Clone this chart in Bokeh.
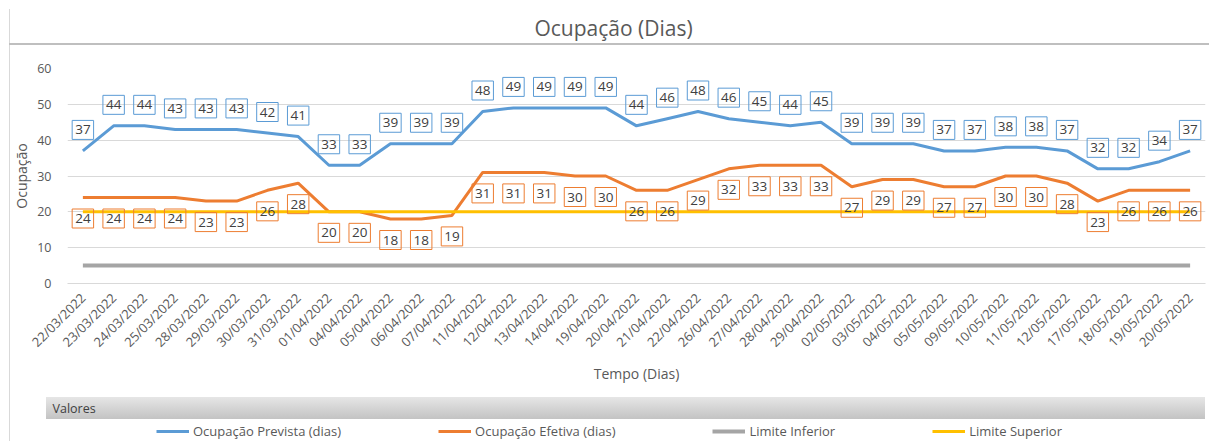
import math
from bokeh.plotting import figure
from bokeh.layouts import column
from bokeh.models import FactorRange, Range1d, Label, Legend, LegendItem, FixedTicker
from bokeh.embed import file_html
from bokeh.resources import INLINE

titulo = "Ocupação (Dias)"
eixo_x = "Tempo (Dias)"
eixo_y = "Ocupação"
titulo_legenda = "Valores"

datas = ["22/03/2022", "23/03/2022", "24/03/2022", "25/03/2022", "28/03/2022", "29/03/2022",
         "30/03/2022", "31/03/2022", "01/04/2022", "04/04/2022", "05/04/2022", "06/04/2022",
         "07/04/2022", "11/04/2022", "12/04/2022", "13/04/2022", "14/04/2022", "19/04/2022",
         "20/04/2022", "21/04/2022", "22/04/2022", "26/04/2022", "27/04/2022", "28/04/2022",
         "29/04/2022", "02/05/2022", "03/05/2022", "04/05/2022", "05/05/2022", "09/05/2022",
         "10/05/2022", "11/05/2022", "12/05/2022", "17/05/2022", "18/05/2022", "19/05/2022",
         "20/05/2022"]
prevista = [37, 44, 44, 43, 43, 43, 42, 41, 33, 33, 39, 39, 39, 48, 49, 49, 49, 49, 44, 46,
            48, 46, 45, 44, 45, 39, 39, 39, 37, 37, 38, 38, 37, 32, 32, 34, 37]
efetiva = [24, 24, 24, 24, 23, 23, 26, 28, 20, 20, 18, 18, 19, 31, 31, 31, 30, 30, 26, 26,
           29, 32, 33, 33, 33, 27, 29, 29, 27, 27, 30, 30, 28, 23, 26, 26, 26]
limite_inferior = 5
limite_superior = 20
y_ticks = [0, 10, 20, 30, 40, 50, 60]
nomes = ["Ocupação Prevista (dias)", "Ocupação Efetiva (dias)", "Limite Inferior", "Limite Superior"]
cores = ["#5B9BD5", "#ED7D31", "#A5A5A5", "#FFC000"]
larguras = [3, 3, 4, 3]

FONT = "Open Sans"
TXT = "#595959"
W = 1209
H_TOP, H_MAIN, H_BOT = 45, 345, 51

# chart furniture outside the plot area: chart border, rule under the title, legend header bar
decor = ", ".join([
    "linear-gradient(#BFBFBF, #BFBFBF) 9px 43px / 1200px 2px no-repeat",
    "linear-gradient(#D9D9D9, #D9D9D9) 9px 9px / 1px 432px no-repeat",
    "linear-gradient(#E6E6E6, #C3C3C3) 46px 397px / 1159px 22px no-repeat",
    "white",
])

ALIGN_OFF = 0  # horizontal offset of a strip's frame from the page's left edge


def strip(h):
    global ALIGN_OFF
    f = figure(width=W, height=h, x_range=Range1d(0, W), y_range=Range1d(0, h),
               output_backend="svg", toolbar_location=None, title_location=None,
               min_border_left=0, min_border_right=0, min_border_top=0, min_border_bottom=0)
    try:
        f.frame_align = False
    except Exception:
        ALIGN_OFF = 67
    f.axis.visible = False
    f.grid.visible = False
    f.outline_line_color = None
    f.background_fill_color = None
    f.border_fill_color = None
    return f


# ---- title strip
top = strip(H_TOP)
top.add_layout(Label(x=613 - ALIGN_OFF, y=H_TOP - 27.5, x_units="screen", y_units="screen",
                     text=titulo, text_align="center", text_baseline="middle", text_font=FONT,
                     text_font_size="21px", text_color=TXT))

# ---- main chart
p = figure(width=W, height=H_MAIN, x_range=FactorRange(*datas), y_range=Range1d(0, 60),
           output_backend="svg", toolbar_location=None, title_location=None,
           min_border_left=67, min_border_right=4, min_border_top=23, min_border_bottom=107)
p.outline_line_color = None
p.background_fill_color = "white"
p.border_fill_color = None

p.xgrid.grid_line_color = None
p.ygrid.grid_line_color = "#D9D9D9"
p.ygrid.grid_line_width = 1
p.yaxis.ticker = FixedTicker(ticks=y_ticks)
for ax in (p.xaxis[0], p.yaxis[0]):
    ax.major_tick_line_color = None
    ax.minor_tick_line_color = None
    ax.major_label_text_font = FONT
    ax.major_label_text_color = TXT
    ax.axis_label_text_font = FONT
    ax.axis_label_text_font_size = "14px"
    ax.axis_label_text_font_style = "normal"
    ax.axis_label_text_color = TXT
p.yaxis.major_label_text_font_size = "12.5px"
p.xaxis.major_label_text_font_size = "13px"
p.yaxis.axis_line_color = None
p.yaxis.major_label_standoff = 10
p.yaxis.axis_label = eixo_y
p.yaxis.axis_label_standoff = 3
p.xaxis.axis_line_color = "#D9D9D9"
p.xaxis.major_label_orientation = math.pi / 4
p.xaxis.major_label_standoff = 6
p.xaxis.axis_label = eixo_x
p.xaxis.axis_label_standoff = 4

p.line(datas, prevista, line_color=cores[0], line_width=larguras[0])
p.line(datas, efetiva, line_color=cores[1], line_width=larguras[1])
p.line(datas, [limite_inferior] * len(datas), line_color=cores[2], line_width=larguras[2])
p.line(datas, [limite_superior] * len(datas), line_color=cores[3], line_width=larguras[3])


def data_label(i, v, off, color):
    # x in the categorical range's synthetic coordinates (centre of factor i)
    p.add_layout(Label(x=i + 0.5, y=v, y_offset=off, text=str(v), text_align="center",
                       text_baseline="middle", text_font=FONT, text_font_size="13.5px",
                       text_color="#404040", background_fill_color=None,
                       border_line_color=color, border_line_width=1, padding=(3, 5)))


for i, v in enumerate(prevista):
    data_label(i, v, 21, cores[0])
for i, v in enumerate(efetiva):
    data_label(i, v, -21, cores[1])

# ---- legend strip ("Valores" header + legend)
bot = strip(H_BOT)
bot.add_layout(Label(x=52 - ALIGN_OFF, y=H_BOT - 18, x_units="screen", y_units="screen",
                     text=titulo_legenda, text_align="left", text_baseline="middle",
                     text_font=FONT, text_font_size="12.5px", text_color="#404040"))
# legend swatch renderers (a single point: nothing is drawn in the strip itself)
swatches = [bot.line([0], [0], line_color=c, line_width=w) for c, w in zip(cores, larguras)]
legend = Legend(items=[LegendItem(label=n, renderers=[r]) for n, r in zip(nomes, swatches)],
                location=(156 - ALIGN_OFF, 1), orientation="horizontal",
                background_fill_alpha=0, border_line_color=None, padding=0, margin=0,
                spacing=97, glyph_width=33, glyph_height=14, label_height=14, label_width=10,
                label_standoff=4, label_text_font=FONT, label_text_font_size="13px",
                label_text_color=TXT)
bot.add_layout(legend)

layout = column(top, p, bot, spacing=0)
layout.styles = {"background": decor}

open("out.html", "w").write(file_html(layout, INLINE))
